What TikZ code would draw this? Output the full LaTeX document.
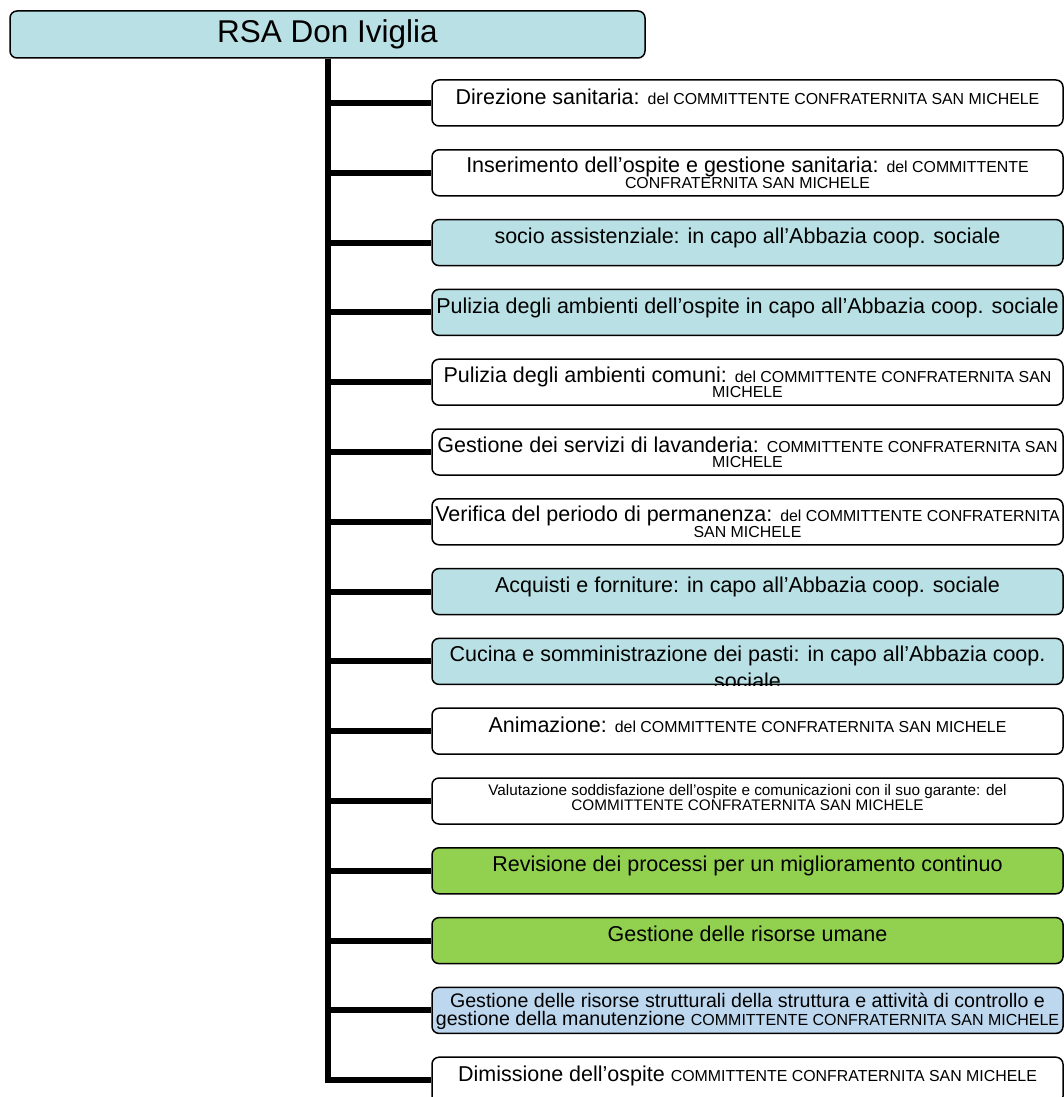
\documentclass[tikz,border=0pt]{standalone}
\usepackage{fontspec}
\setmainfont{Liberation Sans}
\definecolor{rsateal}{RGB}{185,224,228}
\definecolor{rsagreen}{RGB}{146,208,80}
\definecolor{rsablue}{RGB}{189,215,238}
\newcommand{\txttitle}{\fontsize{31.5}{34}\selectfont}
\newcommand{\txtmain}{\fontsize{21.5}{15.5}\selectfont\lineskiplimit=-40pt\relax}
\newcommand{\txtsmall}{\fontsize{15.9}{15.5}\selectfont}
\newcommand{\txtval}{\fontsize{15.3}{15}\selectfont\lineskiplimit=-40pt\relax}
\newcommand{\txtcut}{\fontsize{21.5}{27.5}\selectfont}
\newcommand{\txtstruct}{\fontsize{19.6}{18.5}\selectfont\lineskiplimit=-40pt\relax}

\begin{document}
\begin{tikzpicture}[x=1pt,y=-1pt,
    rootbox/.style={draw=black, line width=1.5pt, fill=rsateal, rounded corners=7pt,
        minimum width=635pt, minimum height=47pt, inner sep=0pt, font=\txttitle},
    itembox/.style={draw=black, line width=1.5pt, rounded corners=7pt,
        minimum width=631pt, minimum height=46pt, inner sep=0pt},
    itemtext/.style={anchor=north, align=center, inner sep=0pt, font=\txtmain},
    trunk/.style={line width=6pt}]
        \useasboundingbox (0,0) rectangle (1064,1097);
        \clip (0,0) rectangle (1064,1097);

        \node[rootbox] (root) at (327.5,34.5) {RSA Don Iviglia};

        \node[itembox] (b0) at (747.5,103) {};
        \node[itembox] (b1) at (747.5,172.8) {};
        \node[itembox, fill=rsateal] (b2) at (747.5,242.6) {};
        \node[itembox, fill=rsateal] (b3) at (747.5,312.4) {};
        \node[itembox] (b4) at (747.5,382.2) {};
        \node[itembox] (b5) at (747.5,452) {};
        \node[itembox] (b6) at (747.5,521.8) {};
        \node[itembox, fill=rsateal] (b7) at (747.5,591.6) {};
        \node[itembox, fill=rsateal] (b8) at (747.5,661.4) {};
        \node[itembox] (b9) at (747.5,731.2) {};
        \node[itembox] (b10) at (747.5,801) {};
        \node[itembox, fill=rsagreen] (b11) at (747.5,870.8) {};
        \node[itembox, fill=rsagreen] (b12) at (747.5,940.6) {};
        \node[itembox, fill=rsablue] (b13) at (747.5,1010.4) {};
        \node[itembox] (b14) at (747.5,1080.2) {};

        \node[itemtext] (t0) at ([yshift=-9pt]b0.north) {Direzione sanitaria: {\txtsmall del COMMITTENTE CONFRATERNITA SAN MICHELE}};
        \node[itemtext] (t1) at ([yshift=-8pt]b1.north) {Inserimento dell’ospite e gestione sanitaria: {\txtsmall del COMMITTENTE}\\{\txtsmall CONFRATERNITA SAN MICHELE}};
        \node[itemtext] (t2) at ([yshift=-9pt]b2.north) {socio assistenziale: in capo all’Abbazia coop. sociale};
        \node[itemtext] (t3) at ([yshift=-9pt]b3.north) {Pulizia degli ambienti dell’ospite in capo all’Abbazia coop. sociale};
        \node[itemtext] (t4) at ([yshift=-8pt]b4.north) {Pulizia degli ambienti comuni: {\txtsmall del COMMITTENTE CONFRATERNITA SAN}\\{\txtsmall MICHELE}};
        \node[itemtext] (t5) at ([yshift=-8pt]b5.north) {Gestione dei servizi di lavanderia: {\txtsmall COMMITTENTE CONFRATERNITA SAN}\\{\txtsmall MICHELE}};
        \node[itemtext] (t6) at ([yshift=-8pt]b6.north) {Verifica del periodo di permanenza: {\txtsmall del COMMITTENTE CONFRATERNITA}\\{\txtsmall SAN MICHELE}};
        \node[itemtext] (t7) at ([yshift=-9pt]b7.north) {Acquisti e forniture: in capo all’Abbazia coop. sociale};
        % text runs out of the box and is cut at its border
        \begin{scope}
            \clip[rounded corners=7pt] (b8.south west) rectangle (b8.north east);
            \node[itemtext, font=\txtcut] (t8) at ([yshift=-8pt]b8.north) {Cucina e somministrazione dei pasti: in capo all’Abbazia coop.\\sociale};
        \end{scope}
        \node[itemtext] (t9) at ([yshift=-9pt]b9.north) {Animazione: {\txtsmall del COMMITTENTE CONFRATERNITA SAN MICHELE}};
        \node[itemtext, font=\txtval] (t10) at ([yshift=-6.5pt]b10.north) {Valutazione soddisfazione dell’ospite e comunicazioni con il suo garante: del\\COMMITTENTE CONFRATERNITA SAN MICHELE};
        \node[itemtext] (t11) at ([yshift=-9pt]b11.north) {Revisione dei processi per un miglioramento continuo};
        \node[itemtext] (t12) at ([yshift=-9pt]b12.north) {Gestione delle risorse umane};
        \node[itemtext, font=\txtstruct] (t13) at ([yshift=-6pt]b13.north) {Gestione delle risorse strutturali della struttura e attività di controllo e\\gestione della manutenzione {\fontsize{16}{18.5}\selectfont COMMITTENTE CONFRATERNITA SAN MICHELE}};
        \node[itemtext] (t14) at ([yshift=-9pt]b14.north) {Dimissione dell’ospite {\txtsmall COMMITTENTE CONFRATERNITA SAN MICHELE}};

        \draw[trunk] (root.south) -- (root.south |- b14.west) -- (b14.west);
        \draw[trunk] (root.south |- b0.west) -- (b0.west);
        \draw[trunk] (root.south |- b1.west) -- (b1.west);
        \draw[trunk] (root.south |- b2.west) -- (b2.west);
        \draw[trunk] (root.south |- b3.west) -- (b3.west);
        \draw[trunk] (root.south |- b4.west) -- (b4.west);
        \draw[trunk] (root.south |- b5.west) -- (b5.west);
        \draw[trunk] (root.south |- b6.west) -- (b6.west);
        \draw[trunk] (root.south |- b7.west) -- (b7.west);
        \draw[trunk] (root.south |- b8.west) -- (b8.west);
        \draw[trunk] (root.south |- b9.west) -- (b9.west);
        \draw[trunk] (root.south |- b10.west) -- (b10.west);
        \draw[trunk] (root.south |- b11.west) -- (b11.west);
        \draw[trunk] (root.south |- b12.west) -- (b12.west);
        \draw[trunk] (root.south |- b13.west) -- (b13.west);
\end{tikzpicture}
\end{document}
